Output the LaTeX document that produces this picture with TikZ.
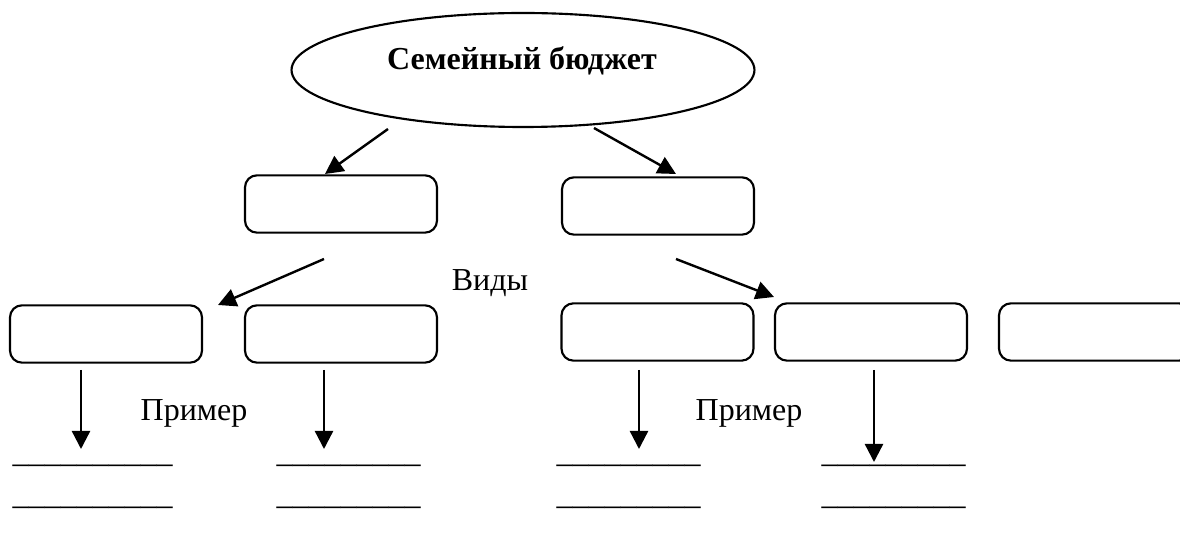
\documentclass[tikz,border=0pt]{standalone}
\usepackage{fontspec}
\setmainfont{Liberation Serif}
\usetikzlibrary{shapes.geometric,arrows.meta}

\tikzset{
	box/.style={draw,line width=0.8pt,rounded corners=4.5pt,inner sep=0pt,minimum width=72pt,minimum height=21.5pt},
	arr/.style={line width=0.9pt,-{Triangle[length=6.8pt,width=6.8pt]}},
	lbl/.style={inner sep=0pt,font=\fontsize{12}{14}\selectfont}
}

\begin{document}
\begin{tikzpicture}[x=0.375pt,y=-0.375pt]
		\useasboundingbox (0,0) rectangle (1180,548);
		\node[draw,ellipse,line width=0.8pt,inner sep=0pt,minimum width=173.6pt,minimum height=42.75pt] (B) at (523,70) {};
		\node[lbl,font=\fontsize{12}{14}\selectfont\bfseries] (Bt) at (522,61) {Семейный бюджет};
		
		\node[box] (Inc) at (341,204) {};
		\node[box] (Exp) at (658,206) {};
		
		\node[box] (Ia) at (106,334) {};
		\node[box] (Ib) at (341,334) {};
		\node[box] (Ea) at (657.5,332) {};
		\node[box] (Eb) at (871,332) {};
		\node[box] (Ec) at (1095,332) {};
		
		\node[lbl] (Vid) at (490,283) {Виды};
		\node[lbl] (Pa) at (194,413) {Пример};
		\node[lbl] (Pb) at (749,413) {Пример};
		
		\node[lbl,anchor=base west] (Ua1) at (12,463) {\_\_\_\_\_\_\_\_\_\_};
		\node[lbl,anchor=base west] (Ua2) at (12,505) {\_\_\_\_\_\_\_\_\_\_};
		\node[lbl,anchor=base west] (Ub1) at (276,463) {\_\_\_\_\_\_\_\_\_};
		\node[lbl,anchor=base west] (Ub2) at (276,505) {\_\_\_\_\_\_\_\_\_};
		\node[lbl,anchor=base west] (Uc1) at (556,463) {\_\_\_\_\_\_\_\_\_};
		\node[lbl,anchor=base west] (Uc2) at (556,505) {\_\_\_\_\_\_\_\_\_};
		\node[lbl,anchor=base west] (Ud1) at (821,463) {\_\_\_\_\_\_\_\_\_};
		\node[lbl,anchor=base west] (Ud2) at (821,505) {\_\_\_\_\_\_\_\_\_};
		
		% free ends of the arrows
		\coordinate (Bl) at (388,129);
		\coordinate (Br) at (594,128);
		\coordinate (IncT) at (325,174);
		\coordinate (ExpT) at (676,174);
		\coordinate (IncB) at (324,259);
		\coordinate (ExpB) at (676,259);
		\coordinate (IaT) at (218,305);
		\coordinate (EbT) at (774,297);
		\coordinate (IaB) at (81,370);
		\coordinate (IbB) at (324,370);
		\coordinate (EaB) at (639,370);
		\coordinate (EbB) at (874,370);
		\coordinate (IaE) at (81,449);
		\coordinate (IbE) at (324,449);
		\coordinate (EaE) at (639,449);
		\coordinate (EbE) at (874,462);
		
		\draw[arr] (Bl) -- (IncT);
		\draw[arr] (Br) -- (ExpT);
		\draw[arr] (IncB) -- (IaT);
		\draw[arr] (ExpB) -- (EbT);
		\draw[arr] (IaB) -- (IaE);
		\draw[arr] (IbB) -- (IbE);
		\draw[arr] (EaB) -- (EaE);
		\draw[arr] (EbB) -- (EbE);
\end{tikzpicture}
\end{document}
